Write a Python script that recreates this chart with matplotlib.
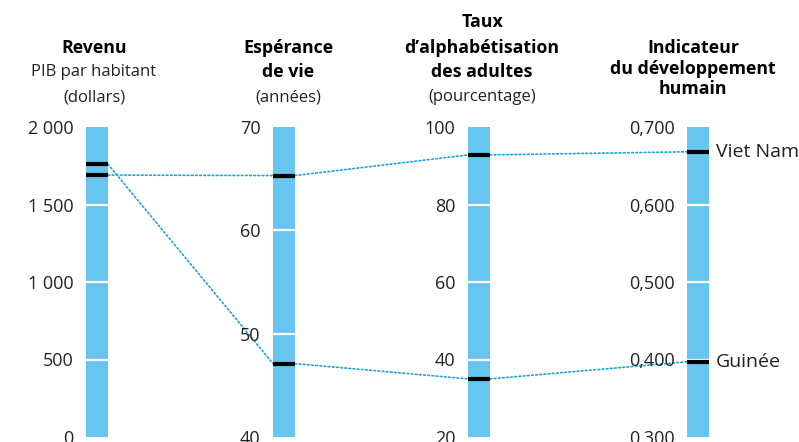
import matplotlib
matplotlib.use("Agg")
import matplotlib.pyplot as plt
from matplotlib.patches import ConnectionPatch

plt.rcParams['font.family'] = ['Open Sans', 'DejaVu Sans']

# données
pays = ["Viet Nam", "Guinée"]
revenu = [1690, 1760]          # PIB par habitant (dollars)
esperance = [65.3, 47.1]       # années
alphabet = [92.8, 35.0]        # pourcentage
idh = [0.668, 0.397]

echelles = [(0, 2000), (40, 70), (20, 100), (0.3, 0.7)]
ticks = [
    [0, 500, 1000, 1500, 2000],
    [40, 50, 60, 70],
    [20, 40, 60, 80, 100],
    [0.3, 0.4, 0.5, 0.6, 0.7],
]
tick_labels = [
    ["0", "500", "1 000", "1 500", "2 000"],
    ["40", "50", "60", "70"],
    ["20", "40", "60", "80", "100"],
    ["0,300", "0,400", "0,500", "0,600", "0,700"],
]
valeurs = [revenu, esperance, alphabet, idh]

titres = [
    [("Revenu", "bold"), ("PIB par habitant", "normal"), ("(dollars)", "normal")],
    [("Espérance", "bold"), ("de vie", "bold"), ("(années)", "normal")],
    [("Taux", "bold"), ("d\u2019alphabétisation", "bold"), ("des adultes", "bold"), ("(pourcentage)", "normal")],
    [("Indicateur", "bold"), ("du développement", "bold"), ("humain", "bold")],
]

BLEU = '#68C5F0'
POINTILLE = '#1AA3E0'
TEXTE = '#222222'

W, H = 799, 442
fig = plt.figure(figsize=(W / 100, H / 100), dpi=100)

gauches = [86, 273, 468, 687]
largeur = 22
haut, bas = 127, 437

axes = []
for i in range(4):
    ax = fig.add_axes([gauches[i] / W, (H - bas) / H, largeur / W, (bas - haut) / H])
    vmin, vmax = echelles[i]
    ax.set_xlim(0, 1)
    ax.set_ylim(vmin, vmax)
    ax.bar(0.5, vmax - vmin, bottom=vmin, width=1, color=BLEU, zorder=1)
    for t in ticks[i][1:-1]:
        ax.axhline(t, color='white', lw=1.6, zorder=2)
    for v in valeurs[i]:
        ax.plot([0, 1], [v, v], color='black', lw=3, solid_capstyle='butt', zorder=3, clip_on=False)
    ax.set_yticks(ticks[i])
    ax.set_yticklabels(tick_labels[i], fontsize=13, color=TEXTE)
    ax.tick_params(axis='y', length=0, pad=9)
    ax.set_xticks([])
    for s in ax.spines.values():
        s.set_visible(False)
    ax.patch.set_visible(False)
    axes.append(ax)

# lignes pointillées entre les indicateurs
for p in range(len(pays)):
    for i in range(3):
        con = ConnectionPatch(xyA=(1, valeurs[i][p]), coordsA=axes[i].transData,
                              xyB=(0, valeurs[i + 1][p]), coordsB=axes[i + 1].transData,
                              color=POINTILLE, lw=1.2, linestyle=(0, (1, 1.5)), zorder=0)
        fig.add_artist(con)

# noms des pays
for p, nom in enumerate(pays):
    axes[3].annotate(nom, xy=(1, idh[p]), xycoords=('axes fraction', 'data'),
                     xytext=(7, 0), textcoords='offset pixels',
                     va='center', ha='left', fontsize=14, color=TEXTE)

# titres
centres = [94, 288, 482, 693]
lignes_y = [
    [48, 72, 97],
    [48, 72, 97],
    [22, 48, 72, 97],
    [48, 69, 89],
]
for i in range(4):
    for (txt, poids), y in zip(titres[i], lignes_y[i]):
        fig.text(centres[i] / W, 1 - y / H, txt, ha='center', va='center',
                 fontsize=12.8 if poids == 'bold' else 12, fontweight=poids,
                 color='black' if poids == 'bold' else TEXTE)

fig.savefig("out.png", dpi=100)
